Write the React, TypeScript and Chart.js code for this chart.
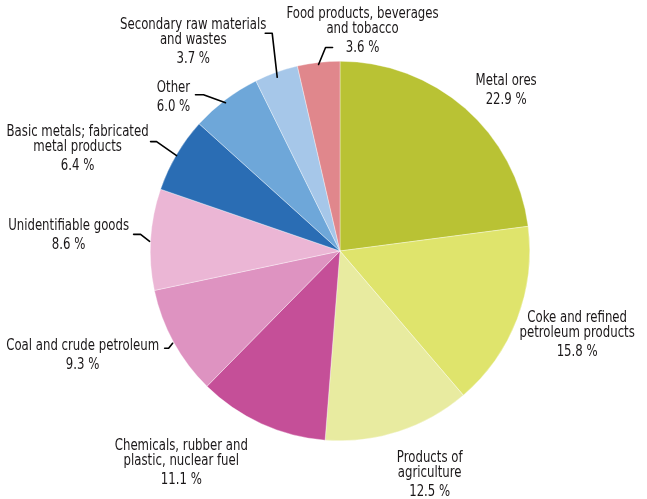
import { useEffect, useRef } from "react";
import { Chart, registerables } from "chart.js";

Chart.register(...registerables);

// Shares of transported goods by product group (per cent)
const categories = [
  "Metal ores",
  "Coke and refined petroleum products",
  "Products of agriculture",
  "Chemicals, rubber and plastic, nuclear fuel",
  "Coal and crude petroleum",
  "Unidentifiable goods",
  "Basic metals; fabricated metal products",
  "Other",
  "Secondary raw materials and wastes",
  "Food products, beverages and tobacco",
];
const shares = [22.9, 15.8, 12.5, 11.1, 9.3, 8.6, 6.4, 6.0, 3.7, 3.6];
const colors = [
  "#b9c234",
  "#dfe46c",
  "#e8eba0",
  "#c54f98",
  "#de93c1",
  "#ebb6d5",
  "#2a6db4",
  "#6ea7d9",
  "#a6c7e9",
  "#e0878c",
];
// How each category name is broken over lines in its label
const labelLines = [
  ["Metal ores"],
  ["Coke and refined", "petroleum products"],
  ["Products of", "agriculture"],
  ["Chemicals, rubber and", "plastic, nuclear fuel"],
  ["Coal and crude petroleum"],
  ["Unidentifiable goods"],
  ["Basic metals; fabricated", "metal products"],
  ["Other"],
  ["Secondary raw materials", "and wastes"],
  ["Food products, beverages", "and tobacco"],
];

// Label placement relative to the outer mid-point of each slice:
// text offset of the first line's centre, and an optional leader line.
type Pt = [number, number];
const labelOffsets: Pt[] = [
  [41, -27],
  [60, -1],
  [31, 27],
  [-80, 22],
  [-91, 4],
  [-82, -13],
  [-99, -22],
  [-52, -12],
  [-83, -47],
  [44, -48],
];
const leaders: (Pt[] | null)[] = [
  null,
  null,
  null,
  null,
  [[-9, 6], [-5, 6], [-1, 1]],
  [[-17, -5], [-10, -5], [-1, 2]],
  [[-26, -13], [-20, -13], [0, 1]],
  [[-30, -5], [-22, -5], [0, 3]],
  [[-11, -39], [-4, -39], [1, 5]],
  [[14, -15], [7, -15], [0, 2]],
];

const FONT = "15px 'Liberation Sans Narrow', 'DejaVu Sans Condensed', sans-serif";
const TEXT_COLOR = "#1a1718";
const TEXT_SQUEEZE = 0.87; // horizontal compression for a narrower face
const NAME_STEP = 15;
const PCT_STEP = 19;

const sliceLabels = {
  id: "sliceLabels",
  afterDatasetsDraw(chart: Chart) {
    const ctx = chart.ctx;
    const meta = chart.getDatasetMeta(0);
    ctx.save();
    ctx.font = FONT;
    ctx.fillStyle = TEXT_COLOR;
    ctx.strokeStyle = "#000000";
    ctx.lineWidth = 1.6;
    ctx.lineJoin = "round";
    ctx.lineCap = "round";
    ctx.textAlign = "center";
    ctx.textBaseline = "middle";

    const drawText = (text: string, cx: number, cy: number) => {
      ctx.save();
      ctx.translate(cx, cy);
      ctx.scale(TEXT_SQUEEZE, 1);
      ctx.fillText(text, 0, 0);
      ctx.restore();
    };

    meta.data.forEach((el: any, i: number) => {
      const { x, y, startAngle, endAngle, outerRadius } = el.getProps(
        ["x", "y", "startAngle", "endAngle", "outerRadius"],
        true
      );
      const mid = (startAngle + endAngle) / 2;
      const ax = x + Math.cos(mid) * outerRadius;
      const ay = y + Math.sin(mid) * outerRadius;

      const lead = leaders[i];
      if (lead) {
        ctx.beginPath();
        lead.forEach(([dx, dy], k) => {
          if (k === 0) ctx.moveTo(ax + dx, ay + dy);
          else ctx.lineTo(ax + dx, ay + dy);
        });
        ctx.stroke();
      }

      const [ox, oy] = labelOffsets[i];
      const lines = labelLines[i];
      let ty = ay + oy;
      lines.forEach((line, k) => {
        if (k > 0) ty += NAME_STEP;
        drawText(line, ax + ox, ty);
      });
      ty += PCT_STEP;
      drawText(shares[i].toFixed(1) + " %", ax + ox, ty);
    });
    ctx.restore();
  },
};

export default function App() {
  const canvasRef = useRef<HTMLCanvasElement | null>(null);

  useEffect(() => {
    document.body.style.margin = "0";
    const canvas = canvasRef.current;
    if (!canvas) return;
    const chart = new Chart(canvas, {
      type: "pie",
      data: {
        labels: categories,
        datasets: [
          {
            data: shares,
            backgroundColor: colors,
            borderColor: "rgba(255,255,255,0.7)",
            borderWidth: 0.5,
          },
        ],
      },
      options: {
        responsive: false,
        animation: false,
        devicePixelRatio: 1,
        layout: { padding: { left: 150, right: 117, top: 61, bottom: 58 } },
        plugins: {
          legend: { display: false },
          tooltip: { enabled: false },
        },
      },
      plugins: [sliceLabels],
    });
    return () => chart.destroy();
  }, []);

  return (
    <div style={{ width: 647, height: 499, background: "#ffffff" }}>
      <canvas ref={canvasRef} width={647} height={499} />
    </div>
  );
}
